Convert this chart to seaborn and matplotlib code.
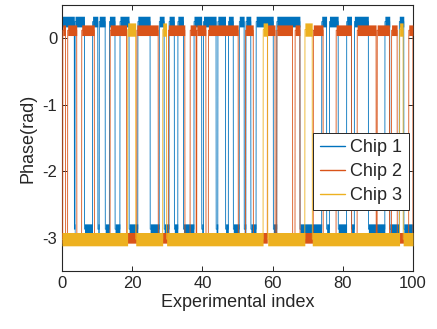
import numpy as np
import matplotlib
matplotlib.use("Agg")
import matplotlib.pyplot as plt
import seaborn as sns

chips = ["Chip 1", "Chip 2", "Chip 3"]
colors = ["#0072BD", "#D95319", "#EDB120"]

# experimental-index ranges where each chip sits in the upper phase state
chip1_high = [(0, 3.5), (3.7, 6.4), (8.7, 10.2), (10.6, 12.3), (13.5, 15.1),
              (16.5, 19.1), (21.6, 25.1), (27.7, 29.1), (30.5, 32.0), (33.0, 34.6),
              (37.6, 39.8), (40.3, 43.9), (44.4, 46.6), (47.4, 48.8), (50.5, 51.9),
              (52.4, 53.8), (55.3, 60.2), (61.2, 67.8), (74.0, 75.4), (76.2, 78.7),
              (81.1, 82.5), (83.3, 87.3), (92.0, 93.4), (96.1, 97.4)]
chip2_high = [(0.2, 1.0), (1.6, 4.2), (5.6, 9.2), (13.7, 18.4), (21.3, 27.4),
              (30.3, 35.0), (36.5, 38.2), (38.4, 41.0), (41.7, 50.2), (52.3, 54.5),
              (58.5, 60.7), (61.2, 65.7), (66.4, 67.8), (71.6, 74.4), (78.1, 82.5),
              (84.1, 89.5), (89.8, 93.3), (93.9, 95.5), (98.8, 100)]
chip3_high = [(18.7, 21.0), (28.7, 29.8), (57.3, 58.6), (69.2, 71.3), (96.2, 97.2)]

# phase level (rad) of both states and half-width of the noise band
high_level = [0.25, 0.12, 0.13]
low_level = [-2.87, -3.00, -3.02]
noise_band = [0.08, 0.08, 0.1]

index_grid = np.linspace(0, 100, 5001)


def phase_trace(intervals, hi, lo):
    y = np.full_like(index_grid, lo)
    for a, b in intervals:
        y[(index_grid >= a) & (index_grid < b)] = hi
    return y


sns.set_style("ticks")
plt.rcParams["font.family"] = ["Liberation Sans", "DejaVu Sans"]
plt.rcParams["axes.unicode_minus"] = False

fig = plt.figure(figsize=(4.37, 3.29), dpi=100)
ax = fig.add_axes([0.142, 0.176, 0.803, 0.809])

for i, (name, intervals) in enumerate(zip(chips, [chip1_high, chip2_high, chip3_high])):
    trace = phase_trace(intervals, high_level[i], low_level[i])
    sns.lineplot(x=index_grid, y=trace, color=colors[i], lw=0.6, label=name,
                 estimator=None, sort=False, ax=ax, zorder=2 + i)
    ax.fill_between(index_grid, trace - noise_band[i], trace + noise_band[i],
                    color=colors[i], lw=0, zorder=2 + i)

ax.set_xlim(0, 100)
ax.set_ylim(-3.5, 0.5)
ax.set_xticks(range(0, 101, 20))
ax.set_yticks([-3, -2, -1, 0])
ax.set_xlabel("Experimental index", fontsize=13, color="#262626", labelpad=2)
ax.set_ylabel("Phase(rad)", fontsize=13, color="#262626", labelpad=4)
ax.tick_params(direction="in", top=True, right=True, length=3.5, width=0.7,
               labelsize=12, colors="#262626")
for s in ax.spines.values():
    s.set_visible(True)
    s.set_linewidth(0.8)
    s.set_color("#262626")

leg = ax.legend(loc="lower right", bbox_to_anchor=(0.988, 0.228), fontsize=13,
                frameon=True, fancybox=False, framealpha=1, edgecolor="#262626",
                borderaxespad=0, handlelength=1.4, handletextpad=0.3,
                labelspacing=0.38, borderpad=0.35)
leg.get_frame().set_linewidth(0.7)
for line in leg.get_lines():
    line.set_linewidth(1.0)

fig.savefig("out.png", dpi=100)
